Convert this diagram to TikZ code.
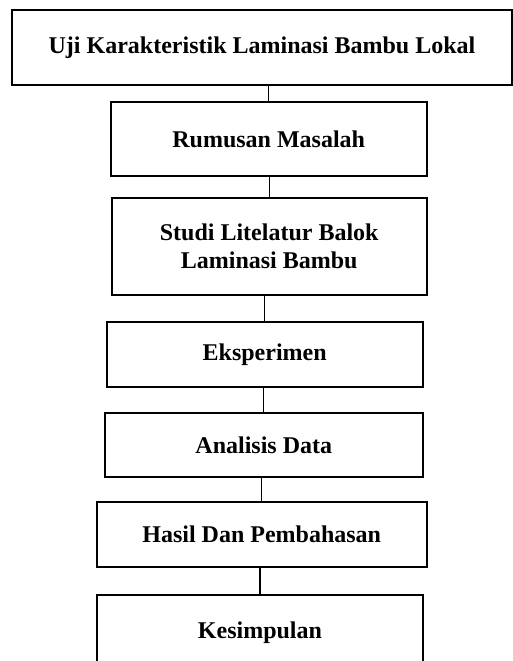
\documentclass[tikz,border=0pt]{standalone}
\usepackage{fontspec}
\setmainfont{Liberation Serif}
\usepackage{tikz}

\begin{document}
\begin{tikzpicture}[x=0.5pt,y=-0.5pt,
       kotak/.style={draw,line width=1pt,align=center,inner sep=0pt,
                     font=\fontsize{12pt}{13.8pt}\selectfont\bfseries},
       garis/.style={line width=0.55pt}]
       \clip (0,0) rectangle (513,661);
       \node[kotak,minimum width=250pt,minimum height=37.5pt] (uji) at (262,47.5)
            {Uji Karakteristik Laminasi Bambu Lokal};
       \node[kotak,minimum width=158pt,minimum height=37.2pt] (rumusan) at (268.7,138.9)
            {Rumusan Masalah};
       \node[kotak,minimum width=157.5pt,minimum height=48.5pt] (studi) at (269.2,246.5)
            {Studi Litelatur Balok\\Laminasi Bambu};
       \node[kotak,minimum width=158pt,minimum height=32.7pt] (eksperimen) at (264.7,354.3)
            {Eksperimen};
       \node[kotak,minimum width=158.8pt,minimum height=32.2pt] (analisis) at (263.8,444.8)
            {Analisis Data};
       \node[kotak,minimum width=165pt,minimum height=32.5pt] (hasil) at (261.7,534.2)
            {Hasil Dan Pembahasan};
       \node[kotak,minimum width=162.7pt,minimum height=38pt] (kesimpulan) at (260,633)
            {Kesimpulan};
       \draw[garis] (rumusan.north) -- (rumusan.north |- uji.south);
       \draw[garis] (studi.north) -- (studi.north |- rumusan.south);
       \draw[garis] (eksperimen.north) -- (eksperimen.north |- studi.south);
       \draw[garis] (analisis.north) -- (analisis.north |- eksperimen.south);
       \draw[garis] (hasil.north) -- (hasil.north |- analisis.south);
       \draw[garis] (kesimpulan.north) -- (kesimpulan.north |- hasil.south);
      \end{tikzpicture}
\end{document}
